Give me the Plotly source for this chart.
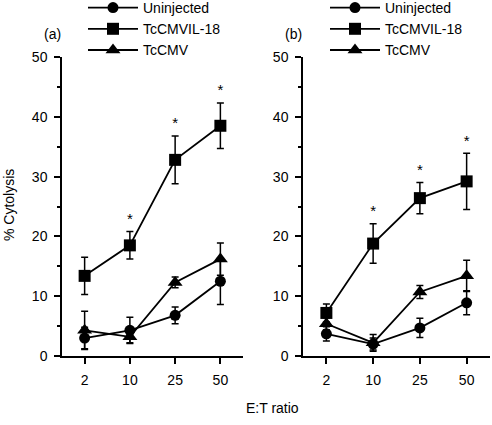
import plotly.graph_objects as go

ratios = ["2", "10", "25", "50"]

# Panel (a)
a_uninj = [3.0, 4.3, 6.8, 12.5]
a_uninj_err = [1.8, 2.2, 1.4, 3.9]
a_il18 = [13.4, 18.5, 32.8, 38.5]
a_il18_err = [3.1, 2.3, 4.0, 3.8]
a_tccmv = [4.3, 3.2, 12.3, 16.2]
a_tccmv_err = [3.2, 1.0, 0.9, 2.7]
a_star = [False, True, True, True]

# Panel (b)
b_uninj = [3.7, 2.0, 4.7, 8.9]
b_uninj_err = [1.2, 1.0, 1.6, 2.0]
b_il18 = [7.2, 18.8, 26.4, 29.2]
b_il18_err = [1.5, 3.3, 2.6, 4.7]
b_tccmv = [5.4, 2.2, 10.7, 13.4]
b_tccmv_err = [1.0, 1.4, 1.1, 2.6]
b_star = [False, True, True, True]

names = ["Uninjected", "TcCMVIL-18", "TcCMV"]
symbols = ["circle", "square", "triangle-up"]
msizes = [11, 12, 13]

FONT = "Liberation Sans, Arial, sans-serif"
fig = go.Figure()

panels = [
    ("x", "y", "legend", [(a_uninj, a_uninj_err), (a_il18, a_il18_err), (a_tccmv, a_tccmv_err)], a_star),
    ("x2", "y2", "legend2", [(b_uninj, b_uninj_err), (b_il18, b_il18_err), (b_tccmv, b_tccmv_err)], b_star),
]

for xa, ya, leg, series, stars in panels:
    for (vals, errs), nm, sym, ms in zip(series, names, symbols, msizes):
        fig.add_trace(go.Scatter(
            x=ratios, y=vals, name=nm, xaxis=xa, yaxis=ya, legend=leg,
            mode="lines+markers",
            line=dict(color="black", width=1.8),
            marker=dict(symbol=sym, size=ms, color="black"),
            error_y=dict(type="data", array=errs, visible=True,
                         color="black", thickness=1.5, width=3.5),
            cliponaxis=False,
        ))
    il_vals, il_errs = series[1]
    sx = [r for r, s in zip(ratios, stars) if s]
    sy = [v + e + 1.9 for v, e, s in zip(il_vals, il_errs, stars) if s]
    fig.add_trace(go.Scatter(
        x=sx, y=sy, xaxis=xa, yaxis=ya, mode="text", text=["*"] * len(sx),
        textposition="middle center", textfont=dict(size=15, color="black", family=FONT),
        showlegend=False, hoverinfo="skip", cliponaxis=False,
    ))

H = 425
ydom = [1 - 356 / H, 1 - 57 / H]
axis_common = dict(showline=True, linecolor="black", linewidth=1.5, showgrid=False,
                   zeroline=False, ticks="outside", ticklen=6, tickwidth=1.5,
                   tickcolor="black", tickfont=dict(size=14, color="black", family=FONT))
yaxis_common = dict(axis_common, range=[0, 50], dtick=10, tick0=0,
                    minor=dict(dtick=5, ticks="outside", ticklen=3, tickwidth=1.5, tickcolor="black"),
                    ticklabelstandoff=4)
xaxis_common = dict(axis_common, type="category", categoryorder="array",
                    categoryarray=ratios, range=[-0.5, 3.5], ticklabelstandoff=4)

leg_common = dict(y=1 + 8 / H, xanchor="left", yanchor="top", itemwidth=50,
                  bgcolor="rgba(0,0,0,0)", font=dict(size=14, family=FONT),
                  tracegroupgap=0, itemclick=False)

ann_common = dict(xref="paper", yref="paper", showarrow=False,
                  xanchor="center", yanchor="middle", font=dict(size=14, family=FONT))

fig.update_layout(
    width=492, height=425,
    margin=dict(l=0, r=0, t=0, b=0, autoexpand=False),
    paper_bgcolor="white", plot_bgcolor="white",
    font=dict(family=FONT, size=14, color="black"),
    xaxis=dict(xaxis_common, domain=[62 / 492, 243 / 492], anchor="y"),
    yaxis=dict(yaxis_common, domain=ydom, anchor="x"),
    xaxis2=dict(xaxis_common, domain=[303 / 492, 490 / 492], anchor="y2"),
    yaxis2=dict(yaxis_common, domain=ydom, anchor="x2"),
    legend=dict(leg_common, x=83 / 492),
    legend2=dict(leg_common, x=325 / 492),
    showlegend=True,
    annotations=[
        dict(ann_common, text="(a)", x=52 / 492, y=1 - 34 / H),
        dict(ann_common, text="(b)", x=293 / 492, y=1 - 34 / H),
        dict(ann_common, text="% Cytolysis", x=9 / 492, y=1 - 205 / H, textangle=-90),
        dict(ann_common, text="E:T ratio", x=272 / 492, y=1 - 408 / H),
    ],
)

fig.write_html("out.html", config={"displayModeBar": False},
               post_script="document.body.style.margin='0';")
